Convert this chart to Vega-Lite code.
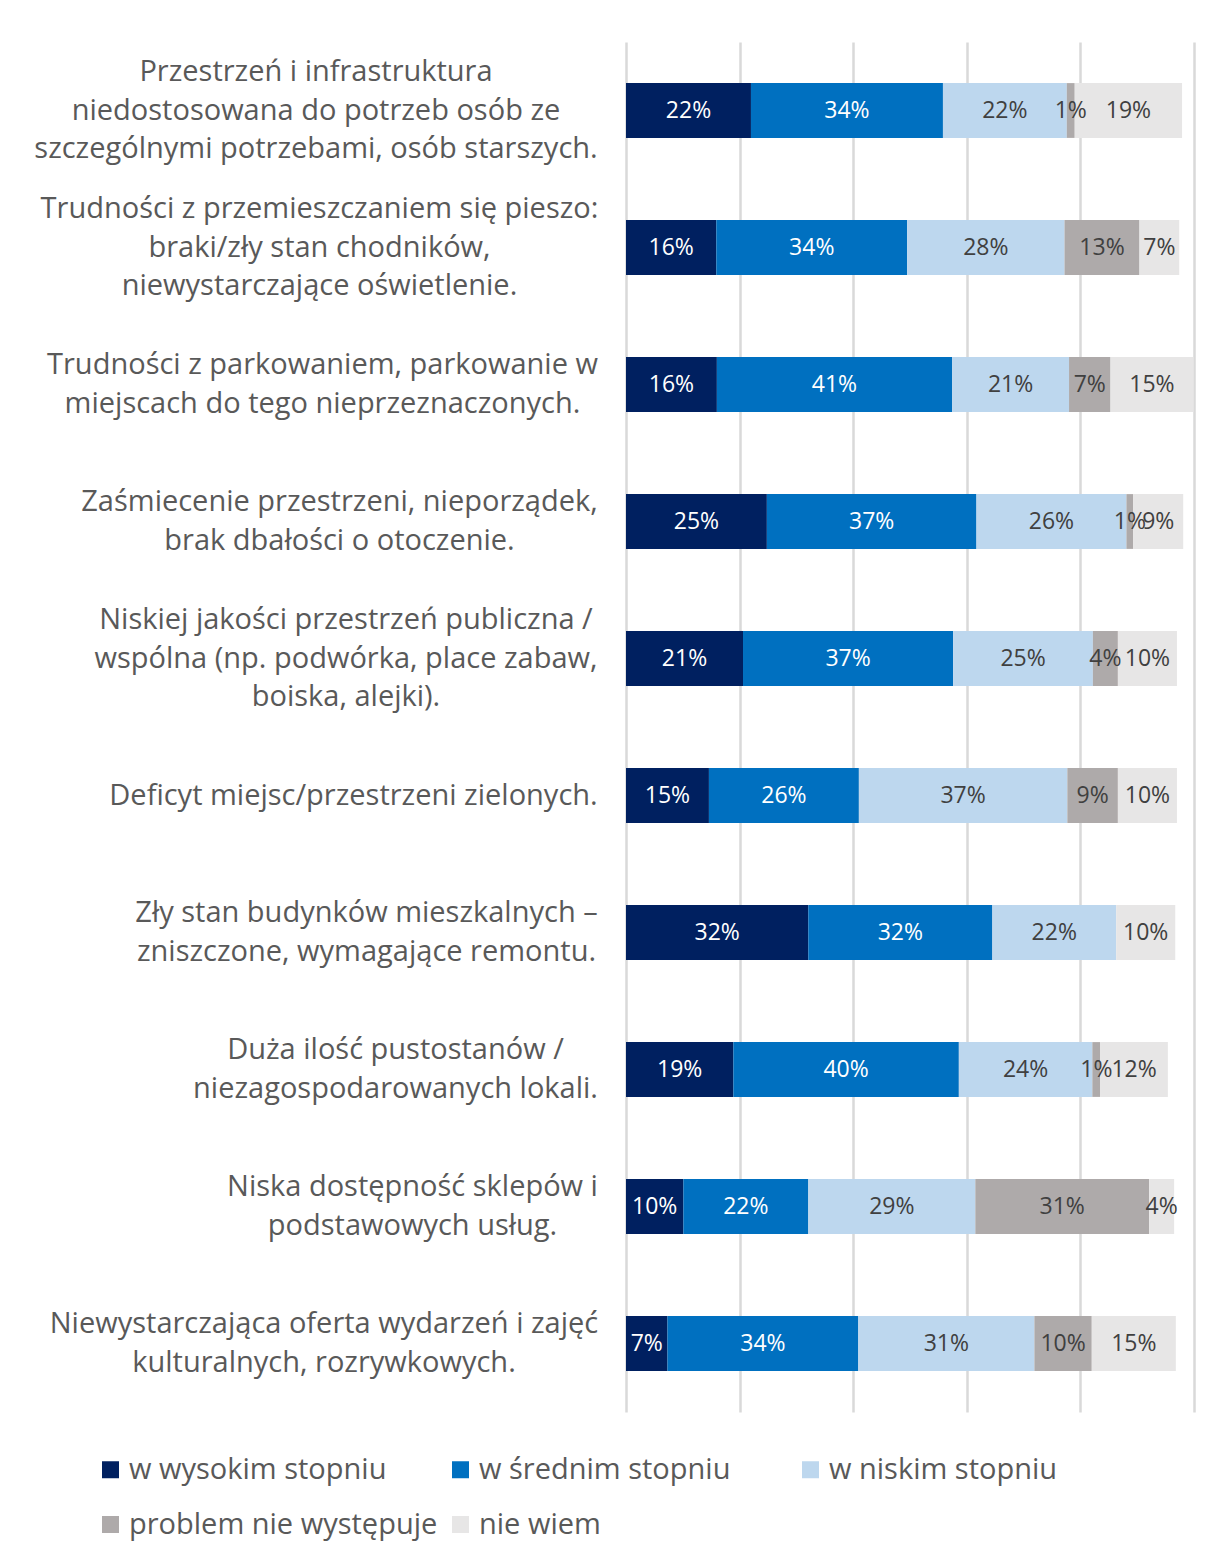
{
  "$schema": "https://vega.github.io/schema/vega-lite/v6.json",
  "width": 568,
  "height": 1370,
  "autosize": {"type": "none"},
  "padding": {"left": 626, "top": 42, "right": 14, "bottom": 142},
  "background": "white",
  "config": {
    "view": {"stroke": null},
    "font": "Open Sans"
  },
  "data": {
    "values": [
      {"id": 1, "s": "w wysokim stopniu", "k": 1, "v": 0.220},
      {"id": 1, "s": "w średnim stopniu", "k": 2, "v": 0.338},
      {"id": 1, "s": "w niskim stopniu", "k": 3, "v": 0.218},
      {"id": 1, "s": "problem nie występuje", "k": 4, "v": 0.014},
      {"id": 1, "s": "nie wiem", "k": 5, "v": 0.189},
      {"id": 2, "s": "w wysokim stopniu", "k": 1, "v": 0.159},
      {"id": 2, "s": "w średnim stopniu", "k": 2, "v": 0.336},
      {"id": 2, "s": "w niskim stopniu", "k": 3, "v": 0.277},
      {"id": 2, "s": "problem nie występuje", "k": 4, "v": 0.132},
      {"id": 2, "s": "nie wiem", "k": 5, "v": 0.070},
      {"id": 3, "s": "w wysokim stopniu", "k": 1, "v": 0.160},
      {"id": 3, "s": "w średnim stopniu", "k": 2, "v": 0.414},
      {"id": 3, "s": "w niskim stopniu", "k": 3, "v": 0.206},
      {"id": 3, "s": "problem nie występuje", "k": 4, "v": 0.073},
      {"id": 3, "s": "nie wiem", "k": 5, "v": 0.146},
      {"id": 4, "s": "w wysokim stopniu", "k": 1, "v": 0.248},
      {"id": 4, "s": "w średnim stopniu", "k": 2, "v": 0.369},
      {"id": 4, "s": "w niskim stopniu", "k": 3, "v": 0.264},
      {"id": 4, "s": "problem nie występuje", "k": 4, "v": 0.012},
      {"id": 4, "s": "nie wiem", "k": 5, "v": 0.088},
      {"id": 5, "s": "w wysokim stopniu", "k": 1, "v": 0.206},
      {"id": 5, "s": "w średnim stopniu", "k": 2, "v": 0.370},
      {"id": 5, "s": "w niskim stopniu", "k": 3, "v": 0.246},
      {"id": 5, "s": "problem nie występuje", "k": 4, "v": 0.044},
      {"id": 5, "s": "nie wiem", "k": 5, "v": 0.104},
      {"id": 6, "s": "w wysokim stopniu", "k": 1, "v": 0.146},
      {"id": 6, "s": "w średnim stopniu", "k": 2, "v": 0.264},
      {"id": 6, "s": "w niskim stopniu", "k": 3, "v": 0.367},
      {"id": 6, "s": "problem nie występuje", "k": 4, "v": 0.089},
      {"id": 6, "s": "nie wiem", "k": 5, "v": 0.104},
      {"id": 7, "s": "w wysokim stopniu", "k": 1, "v": 0.321},
      {"id": 7, "s": "w średnim stopniu", "k": 2, "v": 0.324},
      {"id": 7, "s": "w niskim stopniu", "k": 3, "v": 0.218},
      {"id": 7, "s": "nie wiem", "k": 5, "v": 0.104},
      {"id": 8, "s": "w wysokim stopniu", "k": 1, "v": 0.189},
      {"id": 8, "s": "w średnim stopniu", "k": 2, "v": 0.397},
      {"id": 8, "s": "w niskim stopniu", "k": 3, "v": 0.235},
      {"id": 8, "s": "problem nie występuje", "k": 4, "v": 0.014},
      {"id": 8, "s": "nie wiem", "k": 5, "v": 0.119},
      {"id": 9, "s": "w wysokim stopniu", "k": 1, "v": 0.101},
      {"id": 9, "s": "w średnim stopniu", "k": 2, "v": 0.220},
      {"id": 9, "s": "w niskim stopniu", "k": 3, "v": 0.294},
      {"id": 9, "s": "problem nie występuje", "k": 4, "v": 0.306},
      {"id": 9, "s": "nie wiem", "k": 5, "v": 0.044},
      {"id": 10, "s": "w wysokim stopniu", "k": 1, "v": 0.073},
      {"id": 10, "s": "w średnim stopniu", "k": 2, "v": 0.336},
      {"id": 10, "s": "w niskim stopniu", "k": 3, "v": 0.310},
      {"id": 10, "s": "problem nie występuje", "k": 4, "v": 0.101},
      {"id": 10, "s": "nie wiem", "k": 5, "v": 0.148}
    ]
  },
  "transform": [
    {"stack": "v", "groupby": ["id"], "sort": [{"field": "k", "order": "ascending"}], "as": ["v0", "v1"]},
    {"calculate": "(datum.v0 + datum.v1) / 2", "as": "vmid"}
  ],
  "encoding": {
    "y": {
      "field": "id",
      "type": "ordinal",
      "sort": null,
      "scale": {"paddingInner": 0.6, "paddingOuter": 0.3},
      "axis": {
        "title": null,
        "domain": false,
        "ticks": false,
        "labelExpr": "datum.value == 1 ? ['Przestrzeń i infrastruktura', 'niedostosowana do potrzeb osób ze', 'szczególnymi potrzebami, osób starszych.'] : datum.value == 2 ? ['Trudności z przemieszczaniem się pieszo:', 'braki/zły stan chodników,', 'niewystarczające oświetlenie.'] : datum.value == 3 ? ['Trudności z parkowaniem, parkowanie w', 'miejscach do tego nieprzeznaczonych.'] : datum.value == 4 ? ['Zaśmiecenie przestrzeni, nieporządek,', 'brak dbałości o otoczenie.'] : datum.value == 5 ? ['Niskiej jakości przestrzeń publiczna /', 'wspólna (np. podwórka, place zabaw,', 'boiska, alejki).'] : datum.value == 6 ? 'Deficyt miejsc/przestrzeni zielonych.' : datum.value == 7 ? ['Zły stan budynków mieszkalnych –', 'zniszczone, wymagające remontu.'] : datum.value == 8 ? ['Duża ilość pustostanów /', 'niezagospodarowanych lokali.'] : datum.value == 9 ? ['Niska dostępność sklepów i', 'podstawowych usług.'] : ['Niewystarczająca oferta wydarzeń i zajęć', 'kulturalnych, rozrywkowych.']",
        "labelFont": "Open Sans",
        "labelFontSize": 29,
        "labelLineHeight": 38.5,
        "labelColor": "#595959",
        "labelLimit": 640,
        "labelAlign": "center",
        "labelPadding": {
          "condition": [
            {"test": "datum.value == 1", "value": 310.5},
            {"test": "datum.value == 2", "value": 307},
            {"test": "datum.value == 3", "value": 304},
            {"test": "datum.value == 4", "value": 287},
            {"test": "datum.value == 5", "value": 280.5},
            {"test": "datum.value == 6", "value": 273},
            {"test": "datum.value == 7", "value": 260},
            {"test": "datum.value == 8", "value": 231},
            {"test": "datum.value == 9", "value": 214}
          ],
          "value": 302.5
        },
        "labelOffset": {
          "condition": [
            {"test": "datum.value == 1 || datum.value == 2 || datum.value == 5", "value": -38.5},
            {"test": "datum.value == 6", "value": 0}
          ],
          "value": -19.25
        }
      }
    }
  },
  "layer": [
    {
      "mark": {"type": "bar"},
      "encoding": {
        "x": {
          "field": "v0",
          "type": "quantitative",
          "scale": {"domain": [0, 1], "nice": false},
          "axis": {
            "title": null,
            "labels": false,
            "ticks": false,
            "domain": false,
            "grid": true,
            "values": [0, 0.2, 0.4, 0.6, 0.8, 1],
            "gridColor": "#d9d9d9",
            "gridWidth": 2.5
          }
        },
        "x2": {"field": "v1"},
        "color": {
          "field": "s",
          "type": "nominal",
          "scale": {
            "domain": ["w wysokim stopniu", "w średnim stopniu", "w niskim stopniu", "problem nie występuje", "nie wiem"],
            "range": ["#002060", "#0070C0", "#BDD7EE", "#AEAAAA", "#E7E6E6"]
          },
          "legend": {
            "title": null,
            "orient": "none",
            "legendX": -530,
            "legendY": 1413,
            "direction": "horizontal",
            "columns": 3,
            "gridAlign": "all",
            "columnPadding": 8,
            "rowPadding": 25,
            "padding": 0,
            "symbolType": "square",
            "symbolSize": 289,
            "symbolStrokeWidth": 0,
            "symbolOffset": 0,
            "labelOffset": 4,
            "labelFont": "Open Sans",
            "labelFontSize": 29,
            "labelColor": "#595959",
            "labelLimit": 400
          }
        }
      }
    },
    {
      "mark": {"type": "text", "fontSize": 23, "font": "Open Sans", "align": "center", "baseline": "middle"},
      "encoding": {
        "x": {"field": "vmid", "type": "quantitative"},
        "text": {"field": "v", "type": "quantitative", "format": ".0%"},
        "color": {
          "condition": {"test": "datum.k <= 2", "value": "white"},
          "value": "#404040"
        }
      }
    }
  ]
}
